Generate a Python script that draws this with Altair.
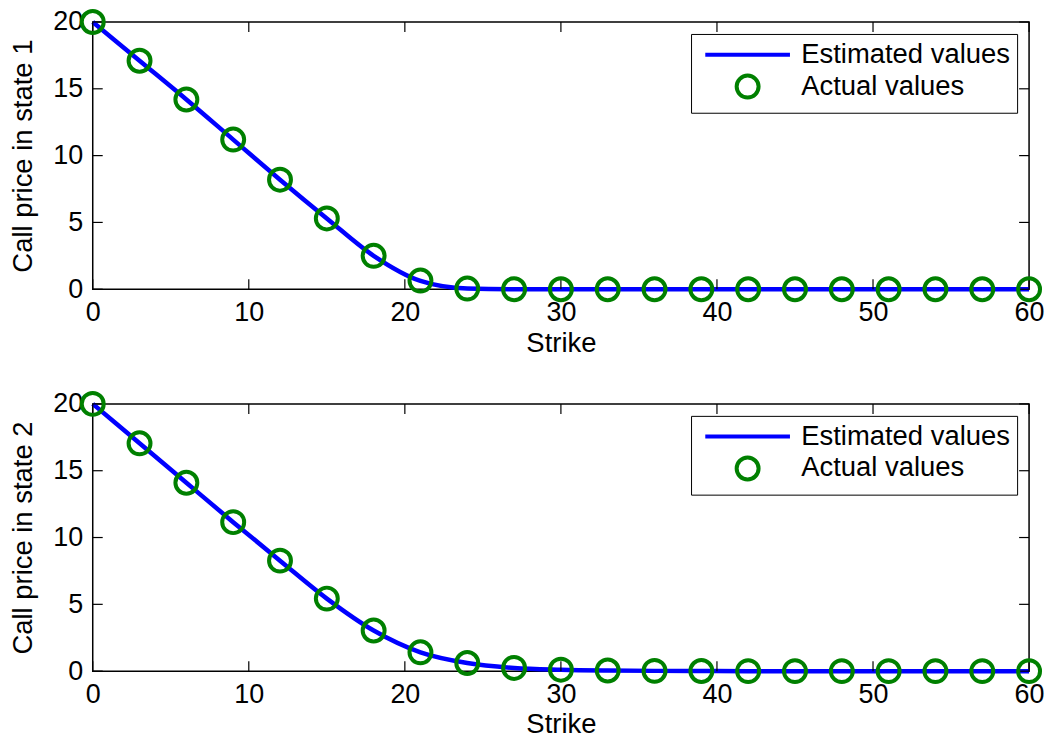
import altair as alt
import pandas as pd

# ---- data ----
strike = [0, 3, 6, 9, 12, 15, 18, 21, 24, 27, 30, 33, 36, 39, 42, 45, 48, 51, 54, 57, 60]

est1 = [20, 17.1, 14.2, 11.2, 8.2, 5.3, 2.5, 0.62, 0.05, 0, 0, 0, 0, 0, 0, 0, 0, 0, 0, 0, 0]
act1 = [20, 17.1, 14.2, 11.2, 8.2, 5.3, 2.5, 0.65, 0.05, 0, 0, 0, 0, 0, 0, 0, 0, 0, 0, 0, 0]

est2 = [20, 17.05, 14.1, 11.15, 8.27, 5.43, 3.04, 1.41, 0.61, 0.24, 0.11, 0.05, 0.02, 0.01, 0, 0, 0, 0, 0, 0, 0]
act2 = [20, 17.05, 14.1, 11.15, 8.27, 5.43, 3.04, 1.41, 0.61, 0.24, 0.11, 0.05, 0.02, 0.01, 0, 0, 0, 0, 0, 0, 0]

x_ticks = [0, 10, 20, 30, 40, 50, 60]
y_ticks = [0, 5, 10, 15, 20]

series_names = ["Estimated values", "Actual values"]
ylabels = ["Call price in state 1", "Call price in state 2"]

W, H = 939, 268
FONT = "Liberation Sans"
FS = 27
FS_T = 27.5
BLUE = "#0000ff"
GREEN = "#008000"
TICK = 10


def panel(est, act, ytitle):
    df_est = pd.DataFrame({"x": strike, "y": est})
    df_act = pd.DataFrame({"x": strike, "y": act, "s": "Actual values"})
    df_xt = pd.DataFrame({"x": x_ticks})
    df_yt = pd.DataFrame({"y": y_ticks})

    xs = alt.Scale(domain=[0, 60], nice=False, zero=False)
    ys = alt.Scale(domain=[0, 20], nice=False, zero=False)
    xaxis = alt.Axis(values=x_ticks, title="Strike", ticks=False, domain=False,
                     grid=False, labelPadding=10, titlePadding=4,
                     labelFlush=False, labelOverlap=False)
    yaxis = alt.Axis(values=y_ticks, title=ytitle, ticks=False, domain=False,
                     grid=False, labelPadding=10, titlePadding=15,
                     labelFlush=False, labelOverlap=False)

    line = alt.Chart(df_est).mark_line(
        color=BLUE, strokeWidth=4.5, interpolate="monotone", clip=False
    ).encode(
        x=alt.X("x:Q", scale=xs, axis=xaxis),
        y=alt.Y("y:Q", scale=ys, axis=yaxis),
    )

    pts = alt.Chart(df_act).mark_point(
        filled=False, strokeWidth=4, size=484, opacity=1, clip=False
    ).encode(
        x=alt.X("x:Q", scale=xs, axis=xaxis),
        y=alt.Y("y:Q", scale=ys, axis=yaxis),
        color=alt.Color("s:N", scale=alt.Scale(domain=series_names, range=[BLUE, GREEN]),
                        legend=alt.Legend(title=None, orient="top-right", offset=12)),
        shape=alt.Shape("s:N", scale=alt.Scale(domain=series_names,
                                               range=["M-3.86,0H3.86", "circle"]),
                        legend=alt.Legend(title=None, orient="top-right", offset=12)),
    )

    xt_bot = alt.Chart(df_xt).mark_rule(color="black", strokeWidth=1.2).encode(
        x=alt.X("x:Q", scale=xs, axis=xaxis), y=alt.value(H), y2=alt.value(H - TICK))
    xt_top = alt.Chart(df_xt).mark_rule(color="black", strokeWidth=1.2).encode(
        x=alt.X("x:Q", scale=xs, axis=xaxis), y=alt.value(0), y2=alt.value(TICK))
    yt_l = alt.Chart(df_yt).mark_rule(color="black", strokeWidth=1.2).encode(
        y=alt.Y("y:Q", scale=ys, axis=yaxis), x=alt.value(0), x2=alt.value(TICK))
    yt_r = alt.Chart(df_yt).mark_rule(color="black", strokeWidth=1.2).encode(
        y=alt.Y("y:Q", scale=ys, axis=yaxis), x=alt.value(W - TICK), x2=alt.value(W))

    return alt.layer(line, xt_bot, xt_top, yt_l, yt_r, pts).properties(width=W, height=H)


top = panel(est1, act1, ylabels[0])
bot = panel(est2, act2, ylabels[1])

chart = alt.vconcat(top, bot, spacing=26).resolve_scale(
    color="independent", shape="independent"
).resolve_legend(
    color="independent", shape="independent"
).properties(
    padding={"left": 9, "top": 1, "right": 5, "bottom": 2},
    background="white",
).configure_view(
    stroke="black", strokeWidth=1.5
).configure_axis(
    labelFont=FONT, titleFont=FONT, labelFontSize=FS, titleFontSize=FS_T,
    labelColor="black", titleColor="black", titleFontWeight="normal",
).configure_legend(
    labelFont=FONT, labelFontSize=FS_T, labelColor="black", labelLimit=0,
    strokeColor="black", fillColor="white", padding=7,
    symbolSize=484, symbolStrokeWidth=4, symbolOffset=36, labelOffset=40,
    rowPadding=-2, cornerRadius=0,
)

chart.save("out.html", embed_options={"renderer": "svg", "actions": False})
